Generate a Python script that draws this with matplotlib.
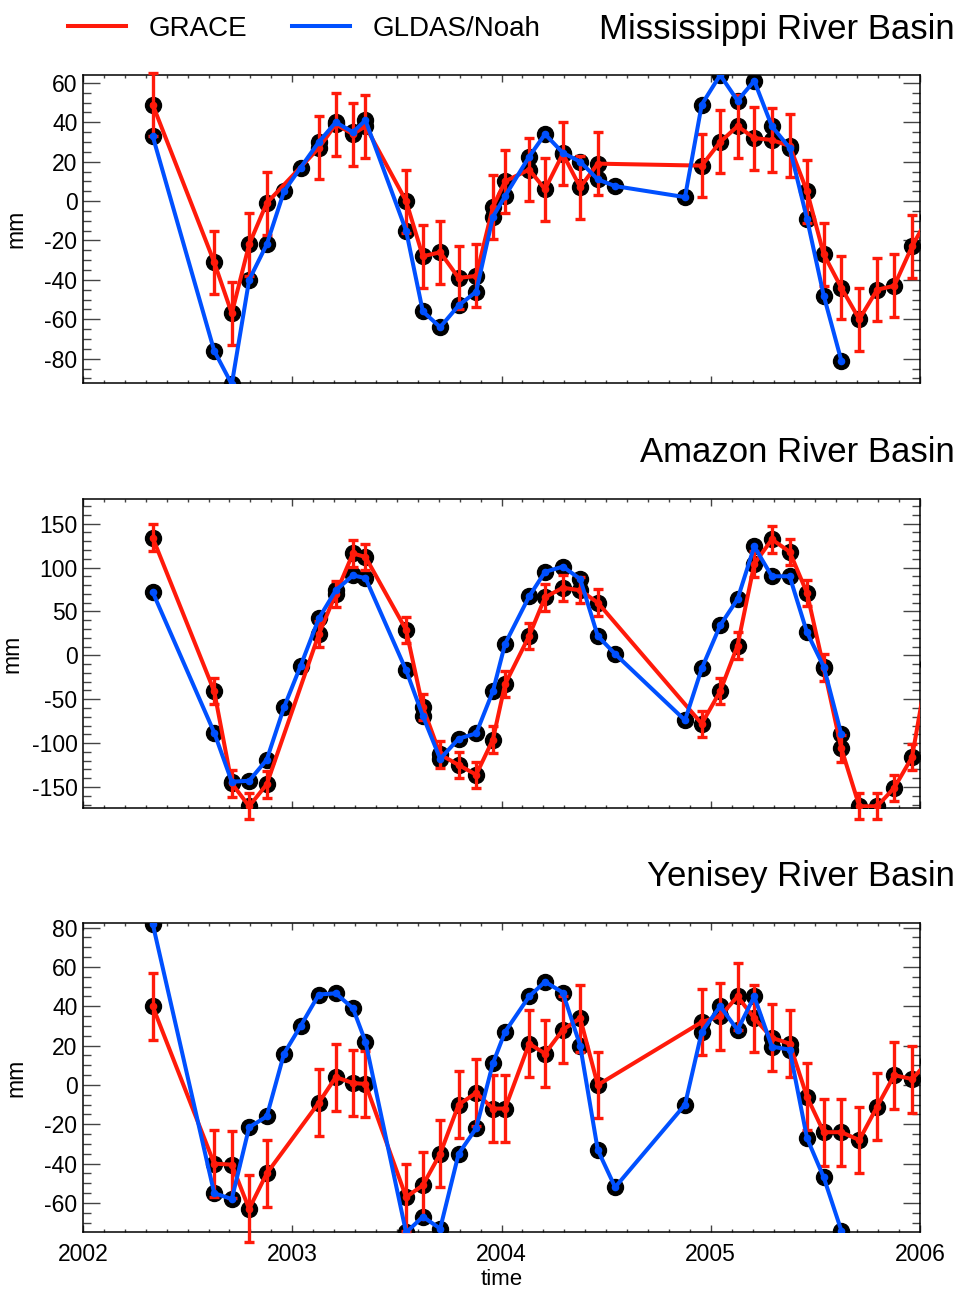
import numpy as np
import matplotlib
matplotlib.use("Agg")
import matplotlib.pyplot as plt
from matplotlib.ticker import MultipleLocator
from matplotlib.lines import Line2D

plt.rcParams['font.family'] = ['Liberation Sans', 'DejaVu Sans']
plt.rcParams['axes.unicode_minus'] = False

# ── DATA ─────────────────────────────────────────────────
t_grace = [2002.333, 2002.627, 2002.711, 2002.794, 2002.878, 2003.127, 2003.208,
           2003.29, 2003.35, 2003.544, 2003.624, 2003.707, 2003.795, 2003.879,
           2003.959, 2004.017, 2004.132, 2004.208, 2004.293, 2004.376, 2004.46,
           2004.957, 2005.045, 2005.128, 2005.208, 2005.292, 2005.377, 2005.46,
           2005.54, 2005.624, 2005.71, 2005.795, 2005.877, 2005.962, 2006.04]
t_gldas = [2002.333, 2002.627, 2002.711, 2002.794, 2002.878, 2002.961, 2003.04,
           2003.127, 2003.208, 2003.29, 2003.35, 2003.544, 2003.624, 2003.707,
           2003.795, 2003.879, 2003.959, 2004.017, 2004.132, 2004.208, 2004.293,
           2004.376, 2004.46, 2004.543, 2004.877, 2004.957, 2005.045, 2005.128,
           2005.208, 2005.292, 2005.377, 2005.46, 2005.54, 2005.624]

miss_grace = [49, -31, -57, -22, -1, 27, 39, 34, 38, 0, -28, -26, -39, -38, -3, 10,
              16, 6, 24, 7, 19, 18, 30, 38, 32, 31, 28, 5, -27, -44, -60, -45, -43,
              -23, -8]
miss_gldas = [33, -76, -93, -40, -22, 5, 17, 30, 40, 35, 41, -15, -56, -64, -53, -46,
              -8, 2.5, 22.5, 34, 24.5, 20, 11, 7.6, 2, 49, 64, 51, 61, 38, 27, -9,
              -48, -81]
miss_err = 16

amaz_grace = [134, -41, -146, -172, -147, 24, 70, 116, 112, 29, -59, -113, -125,
              -136, -96, -33, 22, 66, 77, 74, 60, -78, -41, 11, 104, 132, 118, 71,
              -14, -106, -172, -172, -151, -116, -10]
amaz_gldas = [72, -88, -144, -143, -119, -59, -12, 42, 74, 91, 88, -17, -69, -118,
              -95, -89, -41, 13, 67, 95, 101, 87, 22, 1.5, -74, -15, 34, 64, 124, 90,
              90, 26, -13, -90]
amaz_err = 15

yen_grace = [40, -40, -40.5, -63, -45, -9, 4, 1, 0.5, -57, -51, -35, -10, -4, -12,
             -12, 21, 16, 28, 34, 0, 32, 35, 45, 34, 24, 21, -6, -24, -24, -28, -11,
             5, 3, 12]
yen_gldas = [82, -55, -58, -21.5, -16, 16, 30, 46, 46.6, 39, 22, -75, -67, -73, -35,
             -22, 11, 27, 45, 52.5, 47, 20, -33, -52, -10, 27, 40, 28, 45, 19.5, 18,
             -27, -47, -74]
yen_err = 17

basins = ['Mississippi River Basin', 'Amazon River Basin', 'Yenisey River Basin']
year_ticks = [2002, 2003, 2004, 2005, 2006]

RED = '#FF1A0A'
BLUE = '#0050FF'

fig = plt.figure(figsize=(9.61, 12.89), dpi=100)
W, H = 961, 1289

def axes_px(left, top, right, bottom):
    return fig.add_axes([left / W, 1 - bottom / H, (right - left) / W, (bottom - top) / H])

panels = [
    (axes_px(83, 75, 920, 383.3), miss_grace, miss_gldas, miss_err, (-92.5, 64), 20, 5, 39.5, -0.066),
    (axes_px(83, 499.3, 920, 808.3), amaz_grace, amaz_gldas, amaz_err, (-174.3, 177.7), 50, 10, 462, -0.071),
    (axes_px(83, 923.3, 920, 1232.3), yen_grace, yen_gldas, yen_err, (-74.9, 82.2), 20, 5, 886, -0.066),
]

tg = np.array(t_grace)
for i, (ax, gr, gl, err, ylim, ymaj, ymin, title_y, lab_x) in enumerate(panels):
    gr = np.array(gr)
    inside = tg <= 2006
    # black rings under everything
    ax.plot(t_gldas, gl, 'o', color='k', ms=11.5, zorder=2)
    ax.plot(t_grace, gr, 'o', color='k', ms=11.5, zorder=2)
    eb = ax.errorbar(tg[inside], gr[inside], yerr=err, fmt='none', ecolor=RED,
                     elinewidth=2.4, capsize=3.6, capthick=2.4, zorder=3)
    for art in list(eb[1]) + list(eb[2]):
        art.set_clip_on(False)
    ax.plot(t_grace, gr, '-o', color=RED, lw=2.9, ms=4.5, zorder=4)
    ax.plot(t_gldas, gl, '-o', color=BLUE, lw=2.9, ms=4.5, zorder=5)

    ax.set_xlim(2002, 2006)
    ax.set_ylim(*ylim)
    ax.set_xticks(year_ticks)
    ax.xaxis.set_minor_locator(MultipleLocator(0.1))
    ax.yaxis.set_major_locator(MultipleLocator(ymaj))
    ax.yaxis.set_minor_locator(MultipleLocator(ymin))
    ax.tick_params(which='both', direction='in', top=True, right=True,
                   color='#444444', width=1.0, labelsize=16.5)
    ax.tick_params(axis='x', which='major', length=5, pad=8)
    ax.tick_params(axis='x', which='minor', length=2.5)
    ax.tick_params(axis='y', which='major', length=12, pad=4)
    ax.tick_params(axis='y', which='minor', length=6)
    for sp in ax.spines.values():
        sp.set_linewidth(1.1)
    ax.set_ylabel('mm', fontsize=16.5)
    ax.yaxis.set_label_coords(lab_x, 0.5)
    if i < 2:
        ax.tick_params(axis='x', labelbottom=False)
    else:
        ax.set_xlabel('time', fontsize=16, labelpad=2)

    fig.text(955 / W, 1 - title_y / H, basins[i], ha='right', va='baseline', fontsize=25)

handles = [Line2D([], [], color=RED, lw=2.9), Line2D([], [], color=BLUE, lw=2.9)]
fig.legend(handles, ['GRACE', 'GLDAS/Noah'], loc='center left',
           bbox_to_anchor=(68 / W, 1 - 29 / H), ncol=2, frameon=False, fontsize=20,
           handlelength=2.1, handletextpad=0.8, columnspacing=1.6,
           borderpad=0, borderaxespad=0)

fig.savefig('out.png', dpi=100)
